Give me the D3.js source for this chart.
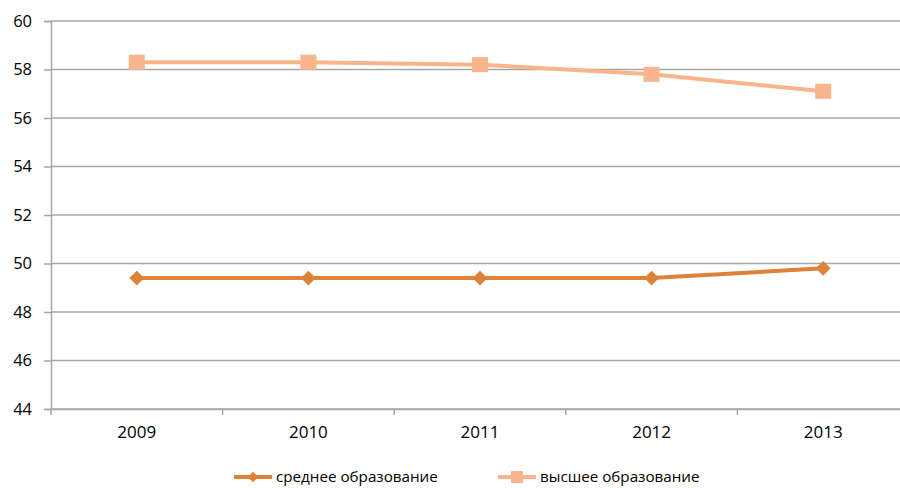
<!DOCTYPE html>
<html>
<head>
<meta charset="utf-8">
<script src="https://cdn.jsdelivr.net/npm/d3@7"></script>
<style>
  html, body { margin: 0; padding: 0; background: #fff; }
  svg { display: block; font-family: "Open Sans", "Noto Sans", sans-serif; }
</style>
</head>
<body>
<svg id="chart" width="900" height="488"></svg>
<script>
// Education level shares by year
const years = ["2009", "2010", "2011", "2012", "2013"];
const secondary = [49.4, 49.4, 49.4, 49.4, 49.8];
const higher = [58.3, 58.3, 58.2, 57.8, 57.1];
const yTicks = [44, 46, 48, 50, 52, 54, 56, 58, 60];
const seriesNames = ["среднее образование", "высшее образование"];

const colors = { secondary: "#DF8136", higher: "#F8B48B" };

const svg = d3.select("#chart");
const plot = { left: 51, right: 909, top: 21, bottom: 409 };

const x = d3.scaleBand().domain(years).range([plot.left, plot.right]).padding(0);
const y = d3.scaleLinear().domain([44, 60]).range([plot.bottom, plot.top]);

// horizontal gridlines
svg.append("g")
  .selectAll("line")
  .data(yTicks)
  .join("line")
  .attr("x1", plot.left).attr("x2", plot.right)
  .attr("y1", d => y(d)).attr("y2", d => y(d))
  .attr("stroke", "#A6A6A6").attr("stroke-width", 1.5);

// y axis
const yAxis = svg.append("g")
  .attr("transform", `translate(${plot.left},0)`)
  .call(d3.axisLeft(y).tickValues(yTicks).tickSize(7).tickPadding(12));
yAxis.select(".domain").attr("stroke", "#A6A6A6").attr("stroke-width", 1.5);
yAxis.selectAll(".tick line").attr("stroke", "#A6A6A6").attr("stroke-width", 1.5);
yAxis.selectAll(".tick text").attr("font-size", 16.5).attr("fill", "#000")
  .style("font-family", "'Open Sans', sans-serif");

// x axis: ticks sit at band boundaries
const xAxis = svg.append("g")
  .attr("transform", `translate(0,${plot.bottom})`)
  .call(d3.axisBottom(x).tickSize(0).tickPadding(17));
xAxis.select(".domain").attr("stroke", "#A6A6A6").attr("stroke-width", 1.5);
xAxis.selectAll(".tick text").attr("font-size", 17).attr("fill", "#000")
  .style("font-family", "'Open Sans', sans-serif");
const boundaries = years.map(d => x(d)).concat([x(years[years.length - 1]) + x.bandwidth()]);
svg.append("g")
  .selectAll("line")
  .data(boundaries)
  .join("line")
  .attr("x1", d => d).attr("x2", d => d)
  .attr("y1", plot.bottom).attr("y2", plot.bottom + 6)
  .attr("stroke", "#A6A6A6").attr("stroke-width", 1.5);

const cx = d => x(d) + x.bandwidth() / 2;
const line = d3.line().x(d => cx(d.year)).y(d => y(d.v));

const secData = years.map((yr, i) => ({ year: yr, v: secondary[i] }));
const highData = years.map((yr, i) => ({ year: yr, v: higher[i] }));

// secondary education series
svg.append("path").datum(secData).attr("d", line)
  .attr("fill", "none").attr("stroke", colors.secondary).attr("stroke-width", 4)
  .attr("stroke-linejoin", "round");
svg.append("g").selectAll("path").data(secData).join("path")
  .attr("d", d3.symbol().type(d3.symbolDiamond2).size(140))
  .attr("transform", d => `translate(${cx(d.year)},${y(d.v)})`)
  .attr("fill", colors.secondary);

// higher education series
svg.append("path").datum(highData).attr("d", line)
  .attr("fill", "none").attr("stroke", colors.higher).attr("stroke-width", 4)
  .attr("stroke-linejoin", "round");
svg.append("g").selectAll("rect").data(highData).join("rect")
  .attr("x", d => cx(d.year) - 8).attr("y", d => y(d.v) - 7.5)
  .attr("width", 16).attr("height", 15)
  .attr("fill", colors.higher);

// legend
const legend = svg.append("g").attr("transform", "translate(0,477)");
const items = [
  { name: seriesNames[0], color: colors.secondary, x0: 234, marker: "diamond" },
  { name: seriesNames[1], color: colors.higher, x0: 498, marker: "square" }
];
items.forEach(it => {
  const g = legend.append("g").attr("transform", `translate(${it.x0},0)`);
  g.append("line").attr("x1", 0).attr("x2", 38).attr("y1", 0).attr("y2", 0)
    .attr("stroke", it.color).attr("stroke-width", 4);
  if (it.marker === "diamond") {
    g.append("path").attr("d", d3.symbol().type(d3.symbolDiamond2).size(70))
      .attr("transform", "translate(19,0)").attr("fill", it.color);
  } else {
    g.append("rect").attr("x", 13).attr("y", -6).attr("width", 12).attr("height", 12)
      .attr("fill", it.color);
  }
  g.append("text").attr("x", 42).attr("y", 0).attr("dy", "0.35em")
    .attr("font-size", 15.2).attr("fill", "#000").text(it.name);
});
</script>
</body>
</html>
